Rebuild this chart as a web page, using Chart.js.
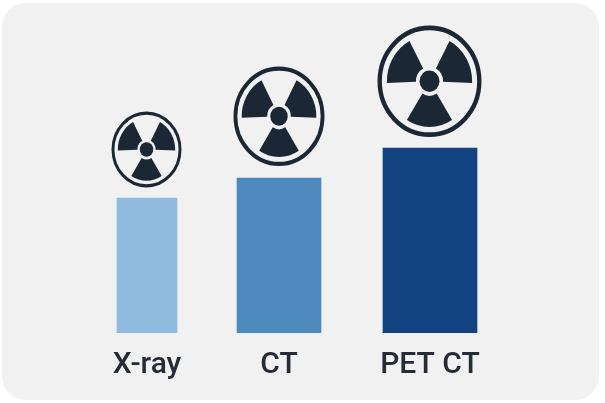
<!DOCTYPE html>
<html>
<head>
<meta charset="utf-8">
<script src="https://cdn.jsdelivr.net/npm/chart.js@4/dist/chart.umd.min.js"></script>
<style>
html, body { margin: 0; padding: 0; background: #fff; }
#card { position: absolute; left: 2px; top: 3px; width: 597px; height: 397px; background: #f1f1f1; border-radius: 24px; }
canvas { position: absolute; left: 0; top: 0; }
</style>
</head>
<body>
<div id="card"></div>
<canvas id="chart" width="605" height="403"></canvas>
<script>
// no value axis in the picture, so values are bar heights as read
const categories = ["X-ray", "CT", "PET CT"];
const positions = [147, 279, 430];
const values = [135, 155, 185];
const barWidths = [60, 84, 94];
const barColors = ["#90bbdf", "#4e8abd", "#12427f"];

// half width, half height, gap above bar
const iconSizes = [[35, 38, 10.5], [45.5, 49.7, 12], [52, 55.7, 11]];
const iconCenterShift = [-0.5, 0, -0.5];
const iconColor = "#1c2735";

function drawTrefoil(ctx, cx, cy, rx, ry) {
    ctx.save();
    ctx.translate(cx, cy);
    ctx.scale(rx / 50, ry / 50);
    ctx.strokeStyle = iconColor;
    ctx.fillStyle = iconColor;

    ctx.lineWidth = 4.2;
    ctx.beginPath();
    ctx.arc(0, 0, 47.9, 0, Math.PI * 2);
    ctx.stroke();

    ctx.beginPath();
    ctx.arc(0, 0, 9.6, 0, Math.PI * 2);
    ctx.fill();

    [[178, 242], [298, 362], [58, 122]].forEach(([a, b]) => {
        const s = a * Math.PI / 180;
        const e = b * Math.PI / 180;
        ctx.beginPath();
        ctx.arc(0, 0, 41, s, e);
        ctx.arc(0, 0, 13, e, s, true);
        ctx.closePath();
        ctx.fill();
    });
    ctx.restore();
}

const iconPlugin = {
    id: "icons",
    afterDatasetsDraw(chart) {
        const ctx = chart.ctx;
        const x = chart.scales.x;
        const y = chart.scales.y;
        values.forEach((v, i) => {
            const [rx, ry, gap] = iconSizes[i];
            const cx = x.getPixelForValue(positions[i]) + iconCenterShift[i];
            const cy = y.getPixelForValue(v) - gap - ry;
            drawTrefoil(ctx, cx, cy, rx, ry);
        });
    }
};

new Chart(document.getElementById("chart"), {
    type: "bar",
    data: {
        datasets: categories.map((name, i) => ({
            label: name,
            data: [{ x: positions[i], y: values[i] }],
            backgroundColor: barColors[i],
            barThickness: barWidths[i]
        }))
    },
    options: {
        responsive: false,
        animation: false,
        layout: { padding: 0 },
        plugins: { legend: { display: false }, tooltip: { enabled: false } },
        datasets: { bar: { grouped: false } },
        scales: {
            x: {
                type: "linear",
                offset: false,
                min: 0,
                max: 605,
                grid: { display: false },
                border: { display: false },
                afterBuildTicks(axis) {
                    axis.ticks = positions.map(p => ({ value: p }));
                },
                afterFit(axis) { axis.height = 70; },
                ticks: {
                    autoSkip: false,
                    maxRotation: 0,
                    padding: 6,
                    color: "#252c38",
                    font: { family: "Roboto", size: 30, weight: "500" },
                    callback: (v) => categories[positions.indexOf(v)]
                }
            },
            y: { display: false, min: 0, max: 333 }
        }
    },
    plugins: [iconPlugin]
});
</script>
</body>
</html>
